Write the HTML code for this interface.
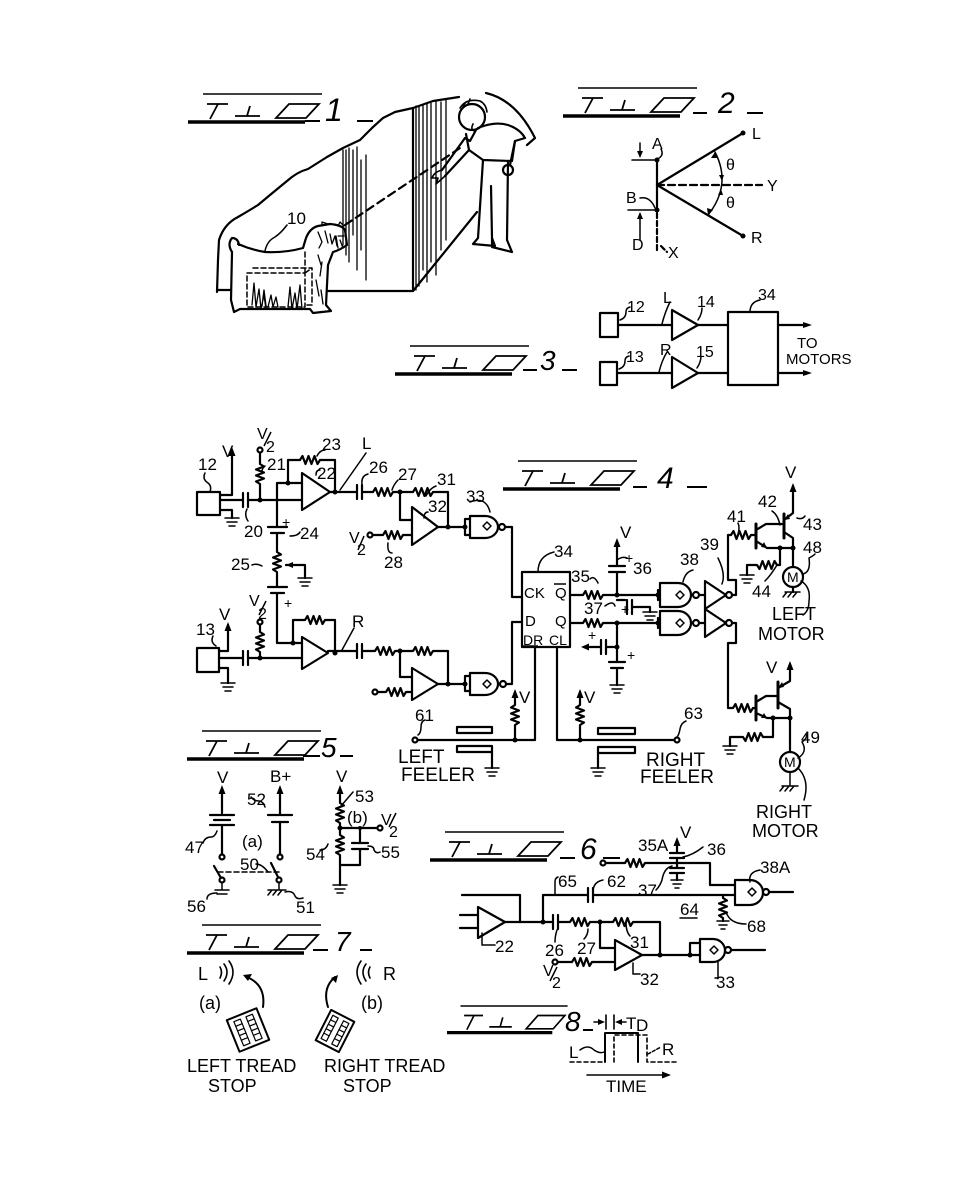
<!DOCTYPE html>
<html><head><meta charset="utf-8">
<style>
html,body{margin:0;padding:0;background:#fff;}
svg{display:block;}
text{font-family:"Liberation Sans",sans-serif;fill:#000;stroke:none;}
</style></head><body>
<svg width="974" height="1181" viewBox="0 0 974 1181" xmlns="http://www.w3.org/2000/svg">
<defs>
<g id="ttl" fill="none" stroke="#000">
<path d="M15 0 H134" stroke-width="1.6"/>
<path d="M19 10 H40 M30 10 L22 25" stroke-width="1.8"/>
<path d="M47 22 H72 M62 12 L59 22" stroke-width="1.8"/>
<path d="M101 10 H131 L118 24 H88 Z" stroke-width="1.8"/>
<path d="M0 28 H117" stroke-width="3.5"/>
</g>
</defs>

<!-- ===== FIG TITLES ===== -->
<use href="#ttl" x="188" y="94"/>
<g stroke="#000" stroke-width="2" fill="none"><path d="M305 121 H320 M357 121 H373"/></g>
<text x="325" y="121" font-size="32" font-style="italic">1</text>

<use href="#ttl" x="563" y="88"/>
<g stroke="#000" stroke-width="2" fill="none"><path d="M693 113 H707 M747 113 H763"/></g>
<text x="718" y="113" font-size="30" font-style="italic">2</text>

<use href="#ttl" x="395" y="346"/>
<g stroke="#000" stroke-width="2" fill="none"><path d="M523 370 H537 M562 370 H577"/></g>
<text x="540" y="370" font-size="28" font-style="italic">3</text>

<use href="#ttl" x="503" y="461"/>
<g stroke="#000" stroke-width="2" fill="none"><path d="M633 487 H647 M687 487 H707"/></g>
<text x="657" y="488" font-size="30" font-style="italic">4</text>

<use href="#ttl" x="187" y="731"/>
<g stroke="#000" stroke-width="2" fill="none"><path d="M303 756 H320 M340 756 H353"/></g>
<text x="321" y="757" font-size="28" font-style="italic">5</text>

<use href="#ttl" x="430" y="832"/>
<g stroke="#000" stroke-width="2" fill="none"><path d="M560 858 H575 M603 858 H620"/></g>
<text x="580" y="859" font-size="30" font-style="italic">6</text>

<use href="#ttl" x="187" y="925"/>
<g stroke="#000" stroke-width="2" fill="none"><path d="M313 950 H328 M360 950 H372"/></g>
<text x="335" y="951" font-size="28" font-style="italic">7</text>

<g transform="translate(447,1006) scale(0.9,0.95)"><use href="#ttl"/></g>
<g stroke="#000" stroke-width="2" fill="none"><path d="M583 1030 H593"/></g>
<text x="565" y="1031" font-size="28" font-style="italic">8</text>

<g fill="none" stroke="#000" stroke-width="2.2" stroke-linejoin="round" stroke-linecap="round">

<!-- ===== FIG 1 ===== -->
<path d="M217 292 L218 260 L219 240 Q224 224 238 217 Q250 210 258 205 L270 195 L287 181 Q297 172 308 169 L327 157 L343 148 L360 140 L372 128 L383 118 L395 112 L413 108 L433 101 L459 97"/>
<path d="M486 93 Q516 100 535 138 L527 145"/>
<path d="M217 290 H231 M328 291 H413 L477 212"/>
<path d="M413 108 V291"/>
<g stroke-width="1.3">
<path d="M343 150 V245 M346 150 V255 M349 148 V262 M353 150 V235 M357 147 V270 M361 160 V250 M366 155 V280"/>
<path d="M416 106 V290 M419 106 V286 M423 105 V270 M427 104 V282 M431 103 V262 M436 102 V275 M441 102 V250 M446 100 V240"/>
</g>
<path d="M345 225 L460 148" stroke-dasharray="8 5"/>
<!-- man -->
<circle cx="472" cy="117" r="13"/>
<path d="M460 108 Q466 98 480 101 Q486 104 487 112 M463 106 l3 -4 M468 104 l2 -5 M473 124 Q470 130 475 131" stroke-width="1.6"/>
<path d="M478 128 Q495 121 508 125 Q520 129 525 138 L515 141 L512 161"/>
<path d="M466 134 L469 150 L483 160 L511 161"/>
<path d="M476 130 L470 141 L465 138 L442 170 M469 150 L445 176"/>
<path d="M442 170 Q434 172 432 178 L438 178 L436 184 L445 176" stroke-width="1.6"/>
<path d="M515 141 L510 165"/>
<circle cx="508" cy="170" r="5"/>
<path d="M483 160 L478 238 L473 244 L495 246 L492 238 L491 186 M508 161 L507 240 L512 252 L492 247 L492 238"/>
<!-- dog -->
<path d="M232 252 q-5 -8 0 -14 q6 0 7 7 M238 244 Q252 250 265 252 Q285 253 303 248 L306 238 Q310 228 318 226 L330 224 Q342 225 345 230 L347 245 Q340 250 333 252 L328 265 L326 305 L331 311 L313 313 L310 309 H240 L234 312 L231 300 L232 252"/>
<g stroke-width="1.3">
<path d="M252 305 l2 -22 l2 24 l3 -18 l2 20 l3 -14 l2 14 M262 306 l2 -16 l2 16 M268 307 l3 -12 l2 12 l3 -10 l2 10 M288 307 l2 -20 l2 22 l3 -16 l2 16 l3 -24 l2 24"/>
<path d="M318 232 l4 10 l-3 6 M325 231 l3 12 M330 234 l2 10 l3 -8 l2 10 M336 236 l2 12 M340 240 l3 8 M344 236 l-6 0 M322 226 l0 -4 l6 2 M338 226 l2 -4 l4 4"/>
<path d="M318 255 l3 10 M322 262 l-2 14 M316 280 l3 16 M321 290 l2 14"/>
</g>
<path d="M247 273 H305 V307 H247 Z M253 268 H312 V305 H305 M305 273 L312 268 M305 252 V273" stroke-dasharray="5 3" stroke-width="1.5"/>
<path d="M287 225 q-6 8 -12 12 q-8 4 -10 14" stroke-width="1.5"/>

<!-- ===== FIG 2 ===== -->
<path d="M657 160 V210"/>
<path d="M657 185 L743 133 M657 185 L743 236"/>
<path d="M657 185 H762" stroke-dasharray="7 4"/>
<path d="M657 213 V250 M661 246 L667 252" stroke-dasharray="5 3"/>
<path d="M632 160 H655 M628 210 H655 M640 143 V156 M640 240 V214" stroke-width="1.5"/>
<path d="M659 158 q5 -3 2 -9 M640 198 q10 -2 15 10" stroke-width="1.5"/>
<path d="M715 152 Q732 185 708 215" stroke-width="1.5"/>

<!-- ===== FIG 3 ===== -->
<rect x="600" y="313" width="18" height="24"/>
<rect x="600" y="362" width="17" height="23"/>
<path d="M618 325 H672 M698 325 H728 M617 373 H672 M698 373 H728"/>
<path d="M672 310 V340 L698 325 Z M672 357 V388 L698 373 Z"/>
<rect x="728" y="312" width="50" height="73"/>
<path d="M778 325 H808 M778 373 H808"/>
<path d="M620 320 q6 -2 6 -8 q0 -4 4 -5 M662 324 q3 -12 8 -22 M698 320 q4 -6 4 -12 M619 369 q6 -2 6 -8 q0 -4 4 -5 M659 372 q3 -12 8 -20 M697 368 q4 -6 4 -12 M750 312 q0 -10 10 -12" stroke-width="1.5"/>
</g>
<g fill="#000" stroke="none">
<circle cx="657" cy="160" r="2.5"/><circle cx="657" cy="210" r="2.5"/>
<circle cx="743" cy="133" r="2.5"/><circle cx="743" cy="236" r="2.5"/>
<path d="M640 158 l-3 -7 h6 Z M640 212 l-3 7 h6 Z"/>
<path d="M715 152 l-4 6 l6 0 Z M708 215 l5 -5 l-6 -2 Z M722 181 l-3 -6 l5 0 Z M721 189 l-3 6 l5 0 Z"/>
<path d="M812 325 l-9 -3 v6 Z M812 373 l-9 -3 v6 Z"/>
</g>
<g font-size="16">
<text x="652" y="149">A</text><text x="752" y="139">L</text><text x="767" y="191">Y</text>
<text x="751" y="243">R</text><text x="626" y="203">B</text><text x="632" y="250">D</text>
<text x="668" y="258">X</text>
<text x="726" y="170">θ</text><text x="726" y="208">θ</text>
<text x="627" y="312">12</text><text x="663" y="303">L</text><text x="697" y="307">14</text>
<text x="758" y="300">34</text>
<text x="626" y="362">13</text><text x="660" y="355">R</text><text x="696" y="357">15</text>
<text x="797" y="348" font-size="15">TO</text><text x="786" y="364" font-size="15">MOTORS</text>
<text x="287" y="224" font-size="17">10</text>
</g>

<!-- ===== FIG 4 ===== -->
<g fill="none" stroke="#000" stroke-width="2.2" stroke-linejoin="round" stroke-linecap="round">
<!-- upper channel -->
<rect x="197" y="492" width="23" height="23"/>
<path d="M220 495 H232 V450"/>
<path d="M220 500 H243 M243 493 V507 M248 493 V507 M248 500 H302"/>
<path d="M220 510 H232 V518"/>
<path d="M225 518 H239 M227 522 H237 M229 526 H235" stroke-width="1.5"/>
<path d="M260 453 V464 l4 2.5 l-8 3 l8 3 l-8 3 l8 3 l-8 3 l4 2.5 V500"/>
<circle cx="260" cy="450" r="2.5"/>
<path d="M277 483 V527 M277 483 H302"/>
<path d="M288 483 V460 H300 l2.5 -4 l3 8 l3 -8 l3 8 l3 -8 l3 8 l2.5 -4 H335 V492"/>
<path d="M302 473 V510 L330 492 Z"/>
<path d="M268 527 H287 M271 533 H284"/>
<path d="M277 533 V552 l4 2.5 l-8 3 l8 3 l-8 3 l8 3 l-8 3 l4 2.5 V587"/>
<path d="M268 587 H287 M271 593 H284 M277 593 V643 H302"/>
<path d="M286 565 H305 V578"/>
<path d="M298 578 H312 M300 582 H310 M302 586 H308" stroke-width="1.5"/>
<path d="M330 492 H357 M357 485 V499 M362 485 V499 M362 492 H373 l2.5 -4 l3 8 l3 -8 l3 8 l3 -8 l3 8 l2.5 -4 H413 l2.5 -4 l3 8 l3 -8 l3 8 l3 -8 l3 8 l2.5 -4 H448 V527"/>
<path d="M400 492 V520 H412"/>
<path d="M412 507 V545 L438 527 Z"/>
<path d="M373 535 H383 l2.5 -4 l3 8 l3 -8 l3 8 l3 -8 l3 8 l2.5 -4 H412"/>
<circle cx="370" cy="535" r="2.5"/>
<path d="M438 527 H465 M465 519 V535 H470 M465 519 H470"/>
<path d="M470 516 H485 A13 11 0 0 1 485 538 H470 Z"/>
<path d="M487 522 l4 4 l-4 4 l-4 -4 Z" stroke-width="1.5"/>
<circle cx="502" cy="527" r="3"/>
<path d="M505 527 H512 V597 H522"/>
<!-- lower channel -->
<rect x="197" y="648" width="22" height="24"/>
<path d="M219 651 H228 V625"/>
<path d="M219 658 H243 M243 651 V665 M248 651 V665 M248 658 H302"/>
<path d="M219 668 H228 V683"/>
<path d="M221 683 H235 M223 687 H233 M225 691 H231" stroke-width="1.5"/>
<path d="M260 625 V632 l4 2.5 l-8 3 l8 3 l-8 3 l8 3 l-8 3 l4 2.5 V658"/>
<circle cx="260" cy="622" r="2.5"/>
<path d="M293 643 V620 H305 l2.5 -4 l3 8 l3 -8 l3 8 l3 -8 l3 8 l2.5 -4 H335 V653"/>
<path d="M302 637 V669 L328 653 Z"/>
<path d="M328 651 H357 M357 644 V658 M362 644 V658 M362 651 H375 l2.5 -4 l3 8 l3 -8 l3 8 l3 -8 l3 8 l2.5 -4 H413 l2.5 -4 l3 8 l3 -8 l3 8 l3 -8 l3 8 l2.5 -4 H448 V684"/>
<path d="M400 651 V677 H412"/>
<path d="M412 668 V700 L438 684 Z"/>
<path d="M378 692 H386 l2.5 -4 l3 8 l3 -8 l3 8 l3 -8 l3 8 l2.5 -4 H412"/>
<circle cx="375" cy="692" r="2.5"/>
<path d="M438 684 H465 M465 676 V691 H470 M465 676 H470"/>
<path d="M470 673 H485 A13 11 0 0 1 485 695 H470 Z"/>
<path d="M487 680 l4 4 l-4 4 l-4 -4 Z" stroke-width="1.5"/>
<circle cx="503" cy="684" r="3"/>
<path d="M506 684 H512 V622 H522"/>
<!-- flip flop -->
<rect x="522" y="572" width="48" height="75"/>
<path d="M535 647 V740 H418 M557 647 V740 H674"/>
<path d="M515 740 V725 l4 -2.5 l-8 -3 l8 -3 l-8 -3 l8 -3 l-8 -3 l4 -2.5 V692"/>
<path d="M580 740 V725 l4 -2.5 l-8 -3 l8 -3 l-8 -3 l8 -3 l-8 -3 l4 -2.5 V692"/>
<circle cx="415" cy="740" r="2.5"/><circle cx="677" cy="740" r="2.5"/>
<rect x="457" y="727" width="35" height="6"/>
<rect x="457" y="746" width="35" height="6"/>
<path d="M492 752 V768"/>
<path d="M485 768 H499 M487 772 H497 M489 776 H495" stroke-width="1.5"/>
<rect x="598" y="728" width="37" height="6"/>
<rect x="598" y="747" width="37" height="6"/>
<path d="M598 753 V768"/>
<path d="M591 768 H605 M593 772 H603 M595 776 H601" stroke-width="1.5"/>
<path d="M418 735 q3 -2 3 -8 q0 -6 4 -7 M677 737 q2 -2 3 -8 q1 -6 6 -8" stroke-width="1.5"/>
<!-- outputs of FF -->
<path d="M570 595 H583 l2.5 -4 l3 8 l3 -8 l3 8 l3 -8 l3 8 l2.5 -4 H660"/>
<path d="M570 623 H583 l2.5 -4 l3 8 l3 -8 l3 8 l3 -8 l3 8 l2.5 -4 H660"/>
<path d="M617 595 V572 M609 572 H625 M609 566 H625 M617 566 V542"/>
<path d="M617 600 H625 M627 600 V614 M632 600 V614 M632 607 H650 V612"/>
<path d="M643 612 H657 M645 616 H655 M647 620 H653" stroke-width="1.5"/>
<path d="M617 623 V662 M617 647 H606 M606 640 V654 M601 640 V654 M601 647 H584"/>
<path d="M609 662 H625 M611 668 H623 M617 668 V685"/>
<path d="M610 685 H624 M612 689 H622 M614 693 H620" stroke-width="1.5"/>
<!-- gates 38 -->
<path d="M658 590 V600 M658 618 V628"/>
<path d="M660 583 H678 A13 12 0 0 1 678 607 H660 Z"/>
<path d="M660 611 H678 A13 12 0 0 1 678 635 H660 Z"/>
<path d="M680 591 l4 4 l-4 4 l-4 -4 Z M680 619 l4 4 l-4 4 l-4 -4 Z" stroke-width="1.5"/>
<circle cx="696" cy="595" r="3"/><circle cx="696" cy="623" r="3"/>
<path d="M699 595 H705 M699 623 H705"/>
<path d="M705 581 V609 L726 595 Z M705 609 V637 L726 623 Z"/>
<circle cx="729" cy="595" r="3"/><circle cx="729" cy="623" r="3"/>
<path d="M732 595 H736 V580 H728 V535 H731 l2.5 -4 l3 8 l3 -8 l3 8 l3 -8 l3 8 l2.5 -4 H755"/>
<path d="M732 623 H736 V643 H728 V708 H733 l2.5 -4 l3 8 l3 -8 l3 8 l3 -8 l3 8 l2.5 -4 H755"/>
<!-- upper transistors -->
<path d="M756 524 V548" stroke-width="3"/>
<path d="M756 530 L766 524 H782 M756 541 L767 548 H793"/>
<path d="M784 514 V538" stroke-width="3"/>
<path d="M784 520 L793 513 V486 M784 532 L793 538 V567"/>
<circle cx="793" cy="577" r="10"/>
<path d="M785 592 H800 M787 592 l-4 5 M792 592 l-4 5 M797 592 l-4 5" stroke-width="1.5"/>
<path d="M793 587 V592"/>
<path d="M780 548 V565 H777 l-2.5 -4 l-3 8 l-3 -8 l-3 8 l-3 -8 l-3 8 l-2.5 -4 H747 V575"/>
<path d="M740 575 H754 M742 579 H752 M744 583 H750" stroke-width="1.5"/>
<!-- lower transistors -->
<path d="M756 696 V720" stroke-width="3"/>
<path d="M756 702 L766 696 H777 M756 713 L767 718 H790"/>
<path d="M778 682 V708" stroke-width="3"/>
<path d="M778 688 L790 681 V664 M778 702 L790 709 V752"/>
<circle cx="790" cy="762" r="10"/>
<path d="M790 772 V786 M782 786 H798 M784 786 l-4 5 M789 786 l-4 5 M794 786 l-4 5" stroke-width="1.5"/>
<path d="M773 718 V737 H763 l-2.5 -4 l-3 8 l-3 -8 l-3 8 l-3 -8 l-3 8 l-2.5 -4 H730 V746"/>
<path d="M723 746 H737 M725 750 H735 M727 754 H733" stroke-width="1.5"/>
<!-- leaders fig4 -->
<path d="M205 473 q-3 6 3 10 q4 3 2 9 M265 466 q-3 2 -3 6 M247 509 q-3 6 1 12 M325 450 q-5 0 -8 6 M320 470 q-4 0 -4 5 M340 490 L366 453 M362 484 q-1 -8 6 -10 M398 480 q-4 4 -6 10 M436 486 q-6 2 -10 10 M428 512 q-4 0 -4 6 M392 553 q-5 0 -4 -10 M470 502 q16 -6 20 10 M290 536 q8 0 10 -4 M252 565 q5 -2 10 1 M213 636 q-3 6 3 10 M342 650 L354 628 M538 572 q0 -16 16 -20 M598 583 q-4 -8 -8 -4 M617 560 q5 -4 10 -2 M605 606 q8 -6 10 0 M683 582 q2 -10 10 -12 M722 584 q4 -10 -4 -26 M738 535 q2 -8 0 -12 M780 525 q-2 -10 -8 -14 M797 518 q5 2 8 -2 M803 574 q8 -2 6 -16 q4 -2 6 -4 M777 565 q-6 10 -12 16 M801 581 q10 6 8 20 q0 10 -6 14 M798 758 q10 -6 4 -16 q6 -4 4 -8 M798 768 q12 12 6 32" stroke-width="1.5"/>
</g>
<g fill="#000" stroke="none">
<path d="M232 447 l-3.5 9 h7 Z M228 622 l-3.5 9 h7 Z M617 538 l-3.5 9 h7 Z M793 483 l-3.5 9 h7 Z M790 661 l-3.5 9 h7 Z M515 689 l-3.5 9 h7 Z M580 689 l-3.5 9 h7 Z"/>
<path d="M286 565 l7 -3 v6 Z M581 647 l8 -3.5 v7 Z"/>
<path d="M767 548 l-6 -1 l3 -5 Z M784 520 l6 -1 l-2 -5 Z M767 718 l-6 0 l3 -5 Z M778 688 l6 -1 l-2 -5 Z"/>
<circle cx="260" cy="500" r="2.5"/><circle cx="288" cy="483" r="2.5"/><circle cx="335" cy="492" r="2.5"/>
<circle cx="400" cy="492" r="2.5"/><circle cx="448" cy="527" r="2.5"/><circle cx="465" cy="527" r="2.5"/>
<circle cx="260" cy="658" r="2.5"/><circle cx="293" cy="643" r="2.5"/><circle cx="335" cy="653" r="2.5"/>
<circle cx="400" cy="651" r="2.5"/><circle cx="448" cy="684" r="2.5"/><circle cx="465" cy="684" r="2.5"/>
<circle cx="515" cy="740" r="2.5"/><circle cx="580" cy="740" r="2.5"/>
<circle cx="617" cy="595" r="2.5"/><circle cx="617" cy="623" r="2.5"/><circle cx="617" cy="647" r="2.5"/>
<circle cx="658" cy="595" r="2.5"/><circle cx="658" cy="623" r="2.5"/>
<circle cx="780" cy="548" r="2.5"/><circle cx="793" cy="548" r="2.5"/>
<circle cx="773" cy="718" r="2.5"/><circle cx="790" cy="718" r="2.5"/>
</g>
<g font-size="17">
<text x="198" y="470">12</text><text x="222" y="457">V</text>
<text x="257" y="439" font-size="16">V</text><text x="266" y="452" font-size="16">2</text>
<text x="267" y="470">21</text><text x="322" y="450">23</text><text x="317" y="479">22</text>
<text x="362" y="449">L</text><text x="369" y="473">26</text><text x="398" y="480">27</text>
<text x="437" y="485">31</text><text x="428" y="512">32</text><text x="466" y="502">33</text>
<text x="244" y="537">20</text><text x="300" y="539">24</text><text x="282" y="527" font-size="14">+</text>
<text x="231" y="570">25</text><text x="284" y="608" font-size="14">+</text>
<text x="349" y="543" font-size="16">V</text><text x="357" y="555" font-size="16">2</text>
<text x="384" y="568">28</text>
<text x="196" y="635">13</text><text x="219" y="620">V</text>
<text x="249" y="606" font-size="16">V</text><text x="258" y="619" font-size="16">2</text>
<text x="352" y="627">R</text>
<text x="554" y="557">34</text>
<text x="524" y="598" font-size="15">CK</text><text x="555" y="598" font-size="15">Q</text>
<text x="525" y="626" font-size="15">D</text><text x="555" y="626" font-size="15">Q</text>
<text x="523" y="645" font-size="14">DR</text><text x="549" y="645" font-size="14">CL</text>
<text x="571" y="582">35</text><text x="620" y="538">V</text>
<text x="625" y="563" font-size="14">+</text><text x="633" y="574">36</text>
<text x="584" y="614">37</text><text x="621" y="614" font-size="14">+</text>
<text x="588" y="640" font-size="14">+</text><text x="627" y="660" font-size="14">+</text>
<text x="680" y="565">38</text><text x="700" y="550">39</text>
<text x="727" y="522">41</text><text x="758" y="507">42</text><text x="785" y="478">V</text>
<text x="803" y="530">43</text><text x="803" y="553">48</text><text x="752" y="597">44</text>
<text x="787" y="582" font-size="14">M</text>
<text x="772" y="620" font-size="18">LEFT</text><text x="758" y="640" font-size="18">MOTOR</text>
<text x="766" y="673">V</text><text x="784" y="767" font-size="14">M</text>
<text x="801" y="743">49</text>
<text x="756" y="818" font-size="18">RIGHT</text><text x="752" y="837" font-size="18">MOTOR</text>
<text x="519" y="703">V</text><text x="584" y="703">V</text>
<text x="415" y="721">61</text><text x="684" y="719">63</text>
<text x="398" y="763" font-size="19">LEFT</text><text x="401" y="781" font-size="19">FEELER</text>
<text x="646" y="766" font-size="19">RIGHT</text><text x="640" y="783" font-size="19">FEELER</text>
</g>
<g stroke="#000" stroke-width="1.5" fill="none">
<path d="M264 446 L271 432 M358 550 L364 536 M259 615 L266 601 M554 584 H566 M389 827 L396 813 M550 981 L557 967"/>
<path d="M522 646 H538"/>
</g>

<!-- ===== FIG 5 ===== -->
<g fill="none" stroke="#000" stroke-width="2.2" stroke-linejoin="round" stroke-linecap="round">
<path d="M222 790 V813 M210 815 H234 M214 820 H230 M210 825 H234 M222 825 V854"/>
<circle cx="222" cy="857" r="2.5"/>
<path d="M214 866 L221 878"/>
<circle cx="222" cy="880" r="2.5"/>
<path d="M222 883 V890 M215 890 H229 M217 894 H227" stroke-width="1.5"/>
<path d="M280 790 V814 M268 815 H292 M272 822 H288 M280 822 V854"/>
<circle cx="280" cy="857" r="2.5"/>
<path d="M271 863 L278 877"/>
<circle cx="279" cy="880" r="2.5"/>
<path d="M279 883 V890 M268 890 H286 M272 890 l-4 5 M277 890 l-4 5 M282 890 l-4 5" stroke-width="1.5"/>
<path d="M218 872 H280" stroke-dasharray="5 3" stroke-width="1.5"/>
<path d="M340 790 V803 l4 2.5 l-8 3 l8 3 l-8 3 l8 3 l-8 3 l4 2.5 V835 l4 2.5 l-8 3 l8 3 l-8 3 l8 3 l-8 3 l4 2.5 V885"/>
<path d="M340 828 H377 M360 828 V843 M352 843 H368 M352 849 H368 M360 849 V865 H340"/>
<circle cx="380" cy="828" r="2.5"/>
<path d="M333 885 H347 M335 889 H345 M337 893 H343" stroke-width="1.5"/>
<path d="M203 843 q2 -6 8 -6 q4 0 6 -6 M251 797 q3 4 8 4 q4 0 6 6 M207 899 q0 -6 10 -6 M285 892 q8 -2 10 4 q2 4 8 2 M256 864 q6 0 12 8 M341 806 L353 792 M320 850 q6 0 8 -6 M368 846 q6 0 6 4 q2 4 6 2" stroke-width="1.5"/>
</g>
<g fill="#000" stroke="none">
<path d="M222 785 l-3.5 9 h7 Z M280 785 l-3.5 9 h7 Z M340 785 l-3.5 9 h7 Z"/>
<circle cx="340" cy="828" r="2.5"/><circle cx="360" cy="828" r="2"/>
</g>
<g font-size="17">
<text x="217" y="783">V</text><text x="270" y="782">B+</text><text x="336" y="782">V</text>
<text x="185" y="853">47</text><text x="242" y="847">(a)</text><text x="247" y="805">52</text>
<text x="240" y="870">50</text><text x="187" y="912">56</text><text x="296" y="913">51</text>
<text x="355" y="802">53</text><text x="347" y="823">(b)</text>
<text x="381" y="825" font-size="16">V</text><text x="389" y="837" font-size="16">2</text>
<text x="306" y="860">54</text><text x="381" y="858">55</text>
</g>

<!-- ===== FIG 6 ===== -->
<g fill="none" stroke="#000" stroke-width="2.2" stroke-linejoin="round" stroke-linecap="round">
<path d="M606 863 H625 l2.5 -4 l3 8 l3 -8 l3 8 l3 -8 l3 8 l2.5 -4 H710 V885 H735"/>
<circle cx="603" cy="863" r="2.5"/>
<path d="M677 842 V853 M670 853 H684 M670 858 H684 M677 858 V868 M670 868 H684 M670 873 H684 M677 873 V880"/>
<path d="M671 880 H683 M673 884 H681 M675 888 H679" stroke-width="1.5"/>
<path d="M462 895 H520 V922 M460 915 H478 M460 928 H478"/>
<path d="M478 907 V938 L505 922 Z"/>
<path d="M505 922 H553 M553 915 V929 M558 915 V929 M558 922 H570 l2.5 -4 l3 8 l3 -8 l3 8 l3 -8 l3 8 l2.5 -4 H613 l2.5 -4 l3 8 l3 -8 l3 8 l3 -8 l3 8 l2.5 -4 H660 V955"/>
<path d="M543 922 V895 H588 M588 888 V902 M593 888 V902 M593 895 H735"/>
<path d="M723 895 V898 l4 2.5 l-8 3 l8 3 l-8 3 l8 3 l-8 3 l4 2.5 V921"/>
<path d="M717 921 H729 M719 925 H727 M721 929 H725" stroke-width="1.5"/>
<path d="M735 880 H750 A13 12.5 0 0 1 750 905 H735 Z"/>
<path d="M752 888 l4 4 l-4 4 l-4 -4 Z" stroke-width="1.5"/>
<circle cx="766" cy="892" r="3"/>
<path d="M769 892 H793"/>
<path d="M600 922 V948 H615"/>
<path d="M615 940 V970 L642 955 Z"/>
<path d="M558 962 H572 l2.5 -4 l3 8 l3 -8 l3 8 l3 -8 l3 8 l2.5 -4 H615"/>
<circle cx="555" cy="962" r="2.5"/>
<path d="M642 955 H700 M690 955 V943 H700"/>
<path d="M700 939 H713 A12 11.5 0 0 1 713 962 H700 Z"/>
<path d="M714 946 l4 4 l-4 4 l-4 -4 Z" stroke-width="1.5"/>
<circle cx="728" cy="950" r="3"/>
<path d="M731 950 H765"/>
<path d="M680 918 H697" stroke-width="1.5"/>
<path d="M555 895 V882 q0 -4 3 -5 M593 892 q0 -10 10 -12 M683 857 q10 -2 20 -10 M672 866 q-8 2 -10 14 q-2 6 -6 10 M750 882 q-2 -10 10 -12 M726 912 q4 12 20 12 M482 933 V945 H495 M557 930 q-2 6 -2 12 M588 929 q0 6 -4 10 M626 922 q0 10 4 14 M633 963 V974 H640 M718 962 V978 H715" stroke-width="1.5"/>
</g>
<g fill="#000" stroke="none">
<path d="M677 837 l-3.5 9 h7 Z"/>
<circle cx="543" cy="922" r="2.5"/><circle cx="600" cy="922" r="2.5"/>
<circle cx="660" cy="955" r="2.5"/><circle cx="690" cy="955" r="2.5"/>
</g>
<g font-size="17">
<text x="638" y="851">35A</text><text x="680" y="838">V</text><text x="707" y="855">36</text>
<text x="558" y="887">65</text><text x="607" y="887">62</text><text x="638" y="896">37</text>
<text x="760" y="873">38A</text><text x="680" y="915">64</text><text x="747" y="932">68</text>
<text x="495" y="952">22</text><text x="545" y="956">26</text><text x="577" y="954">27</text>
<text x="630" y="948">31</text><text x="640" y="985">32</text><text x="716" y="988">33</text>
<text x="543" y="976" font-size="16">V</text><text x="552" y="988" font-size="16">2</text>
</g>

<!-- ===== FIG 7 ===== -->
<g fill="none" stroke="#000" stroke-width="2" stroke-linejoin="round" stroke-linecap="round">
<path d="M220 967 q3 5 0 11 M224 964 q6 8 0 17 M229 961 q8 11 0 23" stroke-width="1.6"/>
<path d="M370 967 q-3 5 0 11 M366 964 q-6 8 0 17 M361 961 q-8 11 0 23" stroke-width="1.6"/>
<path d="M263 1007 Q266 985 247 977 M328 1007 Q322 988 335 977"/>
<g transform="translate(248,1030) rotate(-22)">
<rect x="-16" y="-17" width="32" height="34"/>
<g stroke-width="1.2">
<rect x="-10" y="-13" width="7" height="26"/><rect x="3" y="-13" width="7" height="26"/>
<path d="M-10 -8 H-3 M-10 -3 H-3 M-10 2 H-3 M-10 7 H-3 M3 -8 H10 M3 -3 H10 M3 2 H10 M3 7 H10"/>
</g></g>
<g transform="translate(335,1031) rotate(27)">
<rect x="-13" y="-17" width="26" height="34"/>
<g stroke-width="1.2">
<rect x="-9" y="-13" width="6" height="26"/><rect x="3" y="-13" width="6" height="26"/>
<path d="M-9 -8 H-3 M-9 -3 H-3 M-9 2 H-3 M-9 7 H-3 M3 -8 H9 M3 -3 H9 M3 2 H9 M3 7 H9"/>
</g></g>
</g>
<g fill="#000" stroke="none">
<path d="M243 975 l9 -1 l-4 7 Z M338 975 l-2 8 l-5 -5 Z"/>
</g>
<g font-size="18">
<text x="198" y="980">L</text><text x="383" y="980">R</text>
<text x="199" y="1009">(a)</text><text x="361" y="1009">(b)</text>
<text x="187" y="1072">LEFT TREAD</text><text x="208" y="1092">STOP</text>
<text x="324" y="1072">RIGHT TREAD</text><text x="343" y="1092">STOP</text>
</g>

<!-- ===== FIG 8 ===== -->
<g fill="none" stroke="#000" stroke-width="2" stroke-linejoin="round" stroke-linecap="round">
<path d="M594 1022 H601 M606 1015 V1029 M614 1015 V1029 M619 1022 H626" stroke-width="1.6"/>
<path d="M570 1062 H605" stroke-dasharray="4 3" stroke-width="1.5"/>
<path d="M605 1062 V1033 H638 V1062"/>
<path d="M614 1062 V1035 H647 V1062 H677" stroke-dasharray="4 3" stroke-width="1.6"/>
<path d="M580 1050 q8 -6 14 0 q6 4 10 2" stroke-width="1.5"/>
<path d="M648 1054 L661 1047" stroke-dasharray="3 2" stroke-width="1.5"/>
<path d="M587 1075 H664" stroke-width="1.6"/>
</g>
<g fill="#000" stroke="none">
<path d="M605 1022 l-7 -3 v6 Z M615 1022 l7 -3 v6 Z M671 1075 l-9 -3.5 v7 Z"/>
</g>
<g font-size="17">
<text x="626" y="1029">T</text><text x="636" y="1031">D</text>
<text x="569" y="1058">L</text><text x="662" y="1055">R</text>
<text x="606" y="1092">TIME</text>
</g>
</svg>
</body></html>
